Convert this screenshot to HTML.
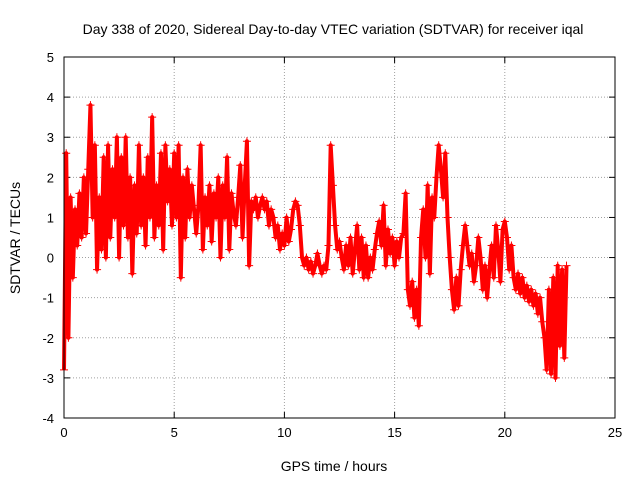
<!DOCTYPE html>
<html><head><meta charset="utf-8"><style>
html,body{margin:0;padding:0;background:#fff}
svg{display:block;font-family:"Liberation Sans",sans-serif}
</style></head><body>
<svg id="chart" width="640" height="480">
<rect width="640" height="480" fill="#fff"/>
<text x="333" y="34" text-anchor="middle" font-size="14">Day 338 of 2020, Sidereal Day-to-day VTEC variation (SDTVAR) for receiver iqal</text>
<text x="334" y="471" text-anchor="middle" font-size="14">GPS time / hours</text>
<text transform="translate(20,238) rotate(-90)" text-anchor="middle" font-size="14">SDTVAR / TECUs</text>
<g id="grid"></g><g id="ticks"></g><g id="series"></g>
<rect x="64" y="57" width="551" height="361" fill="none" stroke="#000" stroke-width="1"/>
</svg>
<script>
const xTicks=[0,5,10,15,20,25];
const yTicks=[-4,-3,-2,-1,0,1,2,3,4,5];
const times=[];
const values=[-2.8,2.6,-2.0,1.5,-0.5,1.2,0.3,1.6,0.5,2.0,0.6,2.2,3.8,1.0,2.8,-0.3,1.5,0.2,2.5,0.0,2.8,0.5,2.2,1.0,3.0,0.0,2.5,0.8,3.0,0.5,2.0,-0.4,1.8,0.6,2.8,0.8,2.0,0.3,2.5,1.0,3.5,0.5,1.8,0.8,2.6,0.2,2.8,1.4,2.2,0.8,2.6,1.0,2.8,-0.5,2.0,0.5,2.2,1.0,1.8,1.2,0.6,1.3,2.8,0.2,1.5,0.8,1.8,0.4,1.6,1.0,2.0,0.0,1.8,1.0,2.5,0.2,1.6,1.1,0.8,1.5,2.3,0.5,1.8,2.9,-0.2,1.4,1.2,1.5,1.0,1.3,1.5,1.2,1.4,0.8,1.2,1.0,0.5,0.8,0.2,0.6,0.3,1.0,0.4,0.7,1.2,1.4,1.3,0.8,0.0,-0.2,0.0,-0.3,-0.1,-0.4,-0.2,0.1,-0.2,-0.4,-0.2,-0.3,0.3,2.8,1.8,0.8,0.2,0.4,0.0,-0.3,0.3,-0.2,0.5,-0.4,0.2,0.8,-0.3,0.5,-0.5,0.3,-0.5,0.0,-0.3,0.2,0.6,0.9,0.3,1.3,-0.2,0.7,0.1,0.5,-0.2,0.4,0.0,0.5,0.6,1.6,-0.8,-1.2,-0.6,-1.5,-0.8,-1.7,0.5,1.2,0.0,1.8,-0.4,1.5,1.0,2.0,2.8,2.2,1.5,2.6,1.0,0.0,-0.8,-1.3,-0.5,-1.2,-0.3,0.3,0.8,0.3,-0.2,0.1,-0.6,-0.2,0.5,0.0,-0.8,-0.2,-1.0,-0.3,0.3,-0.5,0.8,0.2,-0.6,0.7,0.9,0.5,-0.3,0.3,-0.5,-0.8,-0.4,-0.9,-0.5,-1.0,-0.7,-1.1,-0.8,-1.2,-0.9,-1.4,-1.0,-1.6,-2.0,-2.8,-0.8,-2.9,-0.5,-3.0,-0.2,-2.2,-0.3,-2.5,-0.2];
for(let i=0;i<values.length;i++)times.push(i/10);
const NS="http://www.w3.org/2000/svg";
const X0=64,X1=615,Y0=418,Y1=57;
const sx=v=>X0+(v-0)/(25-0)*(X1-X0);
const sy=v=>Y0-(v+4)/9*(Y0-Y1);
function mk(tag,attrs,parent){const e=document.createElementNS(NS,tag);for(const k in attrs)e.setAttribute(k,attrs[k]);document.getElementById(parent).appendChild(e);return e;}
xTicks.forEach(t=>{
  const x=sx(t);
  if(t>0&&t<25){const g=mk('line',{x1:x,x2:x,y1:Y1,y2:Y0,stroke:'#a0a0a0','stroke-dasharray':'1,2'},'grid');
  
  }
  mk('line',{x1:x,x2:x,y1:Y0,y2:Y0-6,stroke:'#000'},'ticks');
  mk('line',{x1:x,x2:x,y1:Y1,y2:Y1+6,stroke:'#000'},'ticks');
  const tx=mk('text',{x:x,y:Y0+19,'text-anchor':'middle','font-size':13},'ticks');
  tx.textContent=t;
  
  
});
yTicks.forEach(t=>{
  const y=sy(t);
  if(t>-4&&t<5){const g=mk('line',{x1:X0,x2:X1,y1:y,y2:y,stroke:'#a0a0a0','stroke-dasharray':'1,2'},'grid');
  
  }
  mk('line',{x1:X0,x2:X0+6,y1:y,y2:y,stroke:'#000'},'ticks');
  mk('line',{x1:X1,x2:X1-6,y1:y,y2:y,stroke:'#000'},'ticks');
  const tx=mk('text',{x:X0-10,y:y+5,'text-anchor':'end','font-size':13},'ticks');
  tx.textContent=t;
  
  
});
const pts=times.map((t,i)=>sx(t)+','+sy(values[i])).join(' ');
const pl=mk('polyline',{points:pts,fill:'none',stroke:'#ff0000','stroke-width':4,'stroke-linejoin':'round'},'series');


times.forEach((t,i)=>{
  const x=sx(t),y=sy(values[i]);
  const p=mk('path',{d:`M${x-4},${y}H${x+4}M${x},${y-4}V${y+4}`,stroke:'#ff0000','stroke-width':1},'series');
  
  
});
</script>
</body></html>
